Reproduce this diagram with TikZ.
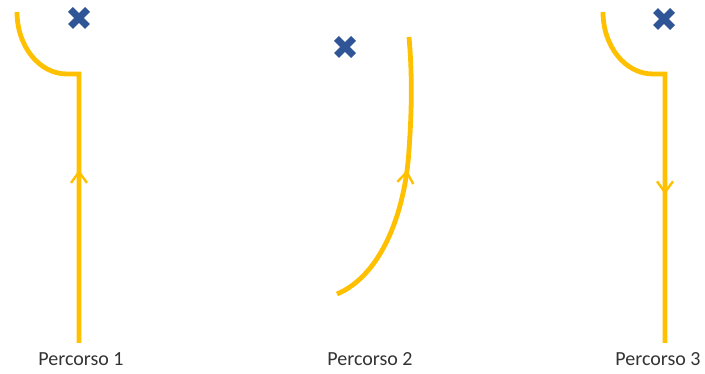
\documentclass[tikz,border=0pt]{standalone}
\usepackage{fontspec}
\setmainfont{Carlito}
\usetikzlibrary{decorations.markings, calc}
\definecolor{trackYellow}{HTML}{FFC000}
\definecolor{markBlue}{HTML}{2F5597}

\begin{document}
\begin{tikzpicture}[
    x=1pt, y=-1pt,
    track/.style={draw=trackYellow, line width=4.8pt, line join=miter},
    chevron/.style={postaction={decorate}, decoration={markings,
        mark=at position #1 with {\draw[trackYellow, line width=2.4pt]
          (-11pt,8pt) -- (0,0) -- (-11pt,-8pt);}}},
    target/.style={draw=markBlue, line width=7pt},
    lbl/.style={font=\fontsize{20}{24}\selectfont, text=black!80},
  ]
    \useasboundingbox (0,0) rectangle (705,374);

    % Percorso 1
    \coordinate (c1) at (79,74);
    \coordinate (b1) at (79,343);
    \draw[track] (17,12) .. controls (17,46) and (39,74) .. (67,74) -- (c1) -- (b1);
    \path[chevron=0.636] (b1) -- (c1);
    \coordinate (x1) at (79,18);
    \draw[target] ($(x1)+(-8.5,-8.5)$) -- ($(x1)+(8.5,8.5)$);
    \draw[target] ($(x1)+(-8.5,8.5)$) -- ($(x1)+(8.5,-8.5)$);
    \node[lbl] (p1) at (81,359) {Percorso 1};

    % Percorso 2
    \coordinate (s2) at (337,294);
    \coordinate (m2) at (409,150);
    \coordinate (e2) at (409,37);
    \draw[track, chevron=0.52] (s2) .. controls (380,276) and (405,215) .. (m2)
      .. controls (413,95) and (411,60) .. (e2);
    \coordinate (x2) at (345,47);
    \draw[target] ($(x2)+(-8.5,-8.5)$) -- ($(x2)+(8.5,8.5)$);
    \draw[target] ($(x2)+(-8.5,8.5)$) -- ($(x2)+(8.5,-8.5)$);
    \node[lbl] (p2) at (370,359) {Percorso 2};

    % Percorso 3
    \coordinate (c3) at (665,74);
    \coordinate (b3) at (665,343);
    \draw[track] (603,12) .. controls (603,46) and (625,74) .. (653,74) -- (c3) -- (b3);
    \path[chevron=0.44] (c3) -- (b3);
    \coordinate (x3) at (664,19);
    \draw[target] ($(x3)+(-8.5,-8.5)$) -- ($(x3)+(8.5,8.5)$);
    \draw[target] ($(x3)+(-8.5,8.5)$) -- ($(x3)+(8.5,-8.5)$);
    \node[lbl] (p3) at (658,359) {Percorso 3};
\end{tikzpicture}
\end{document}
